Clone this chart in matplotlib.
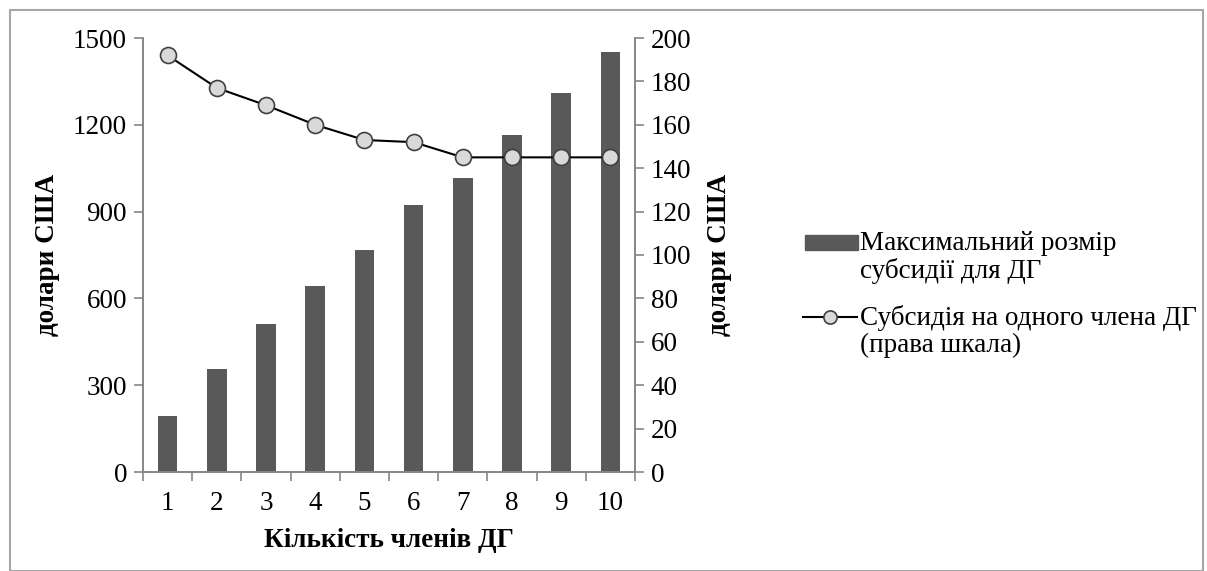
import matplotlib.pyplot as plt
import numpy as np
from matplotlib.patches import Rectangle
from matplotlib.lines import Line2D

plt.rcParams['font.family'] = ['Liberation Serif', 'DejaVu Serif']

members = [1, 2, 3, 4, 5, 6, 7, 8, 9, 10]
max_subsidy = [192, 355, 510, 642, 768, 922, 1015, 1165, 1310, 1450]
per_member = [192, 177, 169, 160, 153, 152, 145, 145, 145, 145]

bar_label = 'Максимальний розмір\nсубсидії для ДГ'
line_label = 'Субсидія на одного члена ДГ\n(права шкала)'

W, H = 1207, 571
fig = plt.figure(figsize=(W / 100, H / 100), dpi=100)
ax = fig.add_axes([143 / W, 1 - 472 / H, (635 - 143) / W, (472 - 38) / H])
ax2 = ax.twinx()

grey = '#868686'
bar_col = '#595959'
fs = 19.5

# bars on the left scale
ax.bar(members, max_subsidy, width=0.4, color=bar_col, zorder=2)
ax.set_xlim(0.5, 10.5)
ax.set_ylim(0, 1500)
ax.set_yticks(np.arange(0, 1501, 300))

# line on the right scale
ax2.plot(members, per_member, color='black', lw=1.5, marker='o', markersize=11.5,
         markerfacecolor='#d9d9d9', markeredgecolor='#404040', markeredgewidth=1.2,
         zorder=3)
ax2.set_ylim(0, 200)
ax2.set_yticks(np.arange(0, 201, 20))

# category ticks on the boundaries, labels in the middle
ax.set_xticks(np.arange(0.5, 10.6, 1))
ax.set_xticklabels([])
ax.set_xticks(members, minor=True)
ax.set_xticklabels([str(m) for m in members], minor=True)
ax.tick_params(axis='x', which='minor', length=0, pad=14, labelsize=fs)
ax.tick_params(axis='x', which='major', length=6.5, color=grey, width=1.2)
ax.tick_params(axis='y', length=6.5, color=grey, width=1.2, labelsize=fs, pad=5)
ax2.tick_params(axis='y', length=6.5, color=grey, width=1.2, labelsize=fs, pad=5)

for a in (ax, ax2):
    a.spines['top'].set_visible(False)
    for s in ('left', 'right', 'bottom'):
        a.spines[s].set_color(grey)
        a.spines[s].set_linewidth(1.2)

ax.set_ylabel('долари США', fontsize=fs, fontweight='bold', labelpad=9)
ax2.set_ylabel('долари США', fontsize=fs, fontweight='bold', labelpad=11, rotation=90)
ax.set_xlabel('Кількість членів ДГ', fontsize=fs, fontweight='bold', labelpad=8)

# legend, drawn by hand so the keys line up with the first text line
fig.patches.append(Rectangle((805 / W, 1 - 250 / H), 53 / W, 15 / H,
                             transform=fig.transFigure, color=bar_col))
fig.lines.append(Line2D([803 / W, 857 / W], [1 - 317 / H, 1 - 317 / H],
                        transform=fig.transFigure, color='black', lw=1.5))
fig.lines.append(Line2D([830 / W], [1 - 317 / H], transform=fig.transFigure,
                        marker='o', markersize=9.5, markerfacecolor='#d9d9d9',
                        markeredgecolor='#404040', markeredgewidth=1.2))
fig.text(860 / W, 1 - 231 / H, bar_label, fontsize=fs, va='top', ha='left',
         linespacing=1.1)
fig.text(860 / W, 1 - 305 / H, line_label, fontsize=fs, va='top', ha='left',
         linespacing=1.1)

# outer frame
fig.patches.append(Rectangle((10 / W, 0.0), 1193 / W, 1 - 10 / H,
                             transform=fig.transFigure, fill=False,
                             edgecolor='#a6a6a6', lw=1.5))

fig.savefig('out.png', dpi=100)
